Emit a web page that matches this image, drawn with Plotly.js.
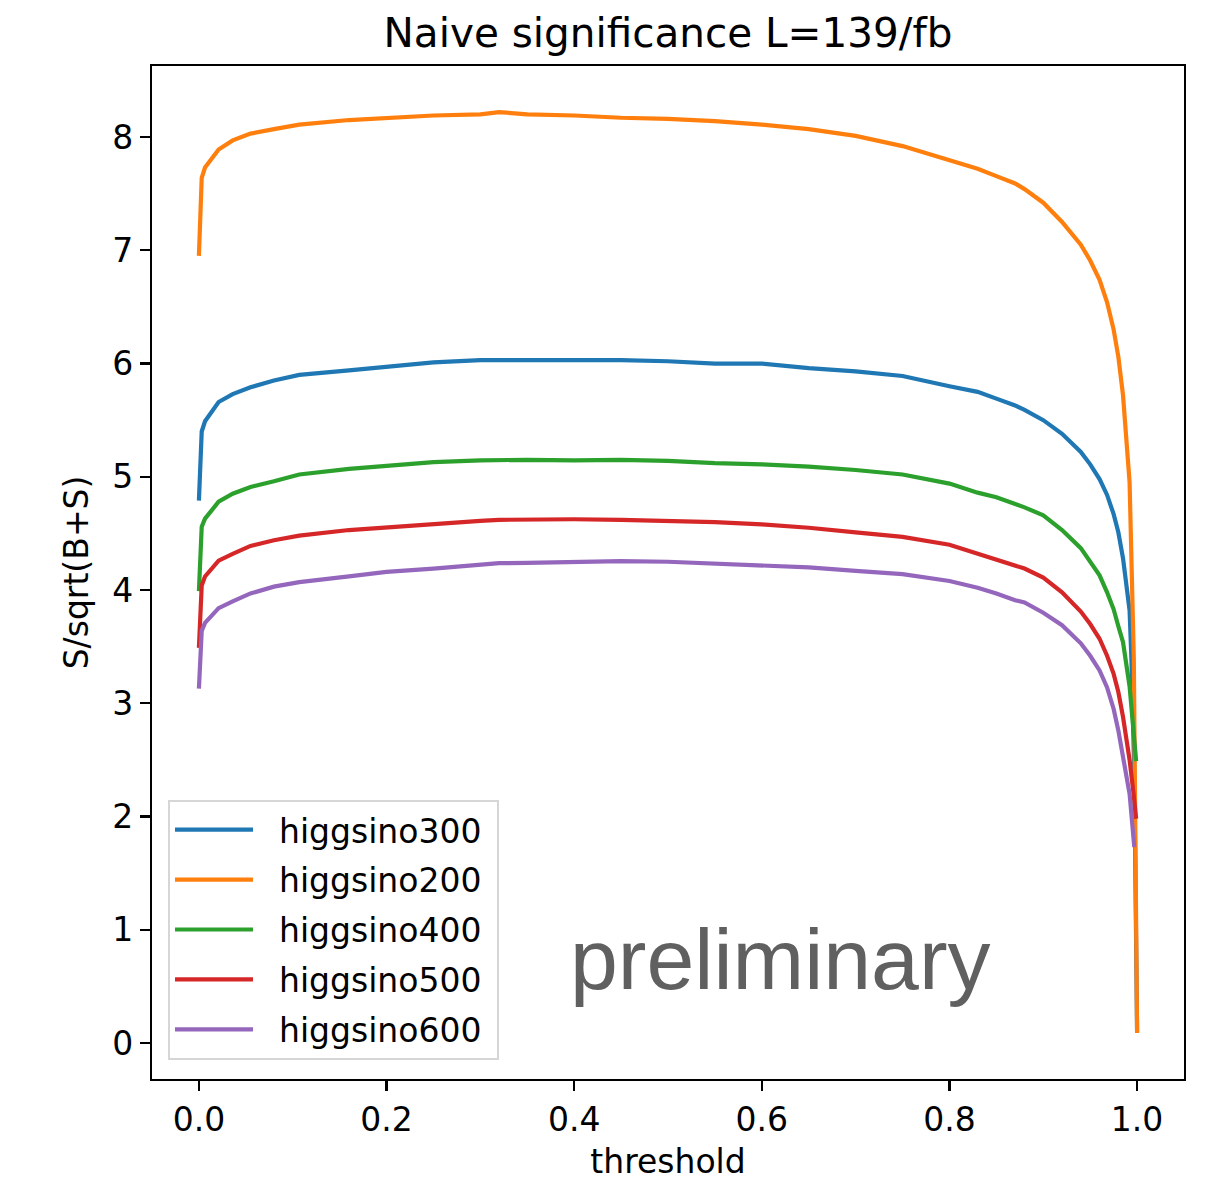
<!DOCTYPE html>
<html>
<head>
<meta charset="utf-8">
<script src="https://cdn.plot.ly/plotly-3.0.1.min.js"></script>
<style>html,body{margin:0;padding:0;background:#fff;}#chart{width:1219px;height:1185px;}</style>
</head>
<body>
<div id="chart"></div>
<script>
// shared threshold grid
const threshold = [0, 0.003, 0.0065, 0.021, 0.036, 0.055, 0.08, 0.107, 0.16, 0.2, 0.25, 0.3, 0.32, 0.35, 0.4, 0.45, 0.5, 0.55, 0.6, 0.65, 0.7, 0.75, 0.8, 0.83, 0.85, 0.87, 0.88, 0.9, 0.92, 0.94, 0.95, 0.96, 0.968, 0.975, 0.98, 0.985, 0.992];

const names = ["higgsino300", "higgsino200", "higgsino400", "higgsino500", "higgsino600"];
const colors = ["#1f77b4", "#ff7f0e", "#2ca02c", "#d62728", "#9467bd"];

const h300 = [4.79, 5.40, 5.49, 5.66, 5.73, 5.79, 5.85, 5.90, 5.94, 5.97, 6.01, 6.03, 6.03, 6.035, 6.03, 6.03, 6.02, 6.00, 6.00, 5.96, 5.93, 5.89, 5.80, 5.75, 5.69, 5.63, 5.59, 5.50, 5.38, 5.22, 5.11, 4.98, 4.84, 4.67, 4.51, 4.28, 3.82];
const h300TailX = [0.994, 0.997, 1.0];
const h300TailY = [3.38, 2.4, 0.1];

const h200 = [6.95, 7.64, 7.73, 7.89, 7.97, 8.03, 8.07, 8.11, 8.15, 8.17, 8.19, 8.20, 8.22, 8.20, 8.19, 8.17, 8.16, 8.14, 8.11, 8.07, 8.01, 7.92, 7.80, 7.72, 7.655, 7.59, 7.54, 7.42, 7.25, 7.05, 6.91, 6.74, 6.54, 6.30, 6.06, 5.72, 4.95];
const h200TailX = [0.9965, 1.0];
const h200TailY = [3.40, 0.09];

const h400 = [3.99, 4.56, 4.63, 4.78, 4.85, 4.91, 4.96, 5.02, 5.07, 5.10, 5.13, 5.145, 5.15, 5.15, 5.145, 5.15, 5.14, 5.12, 5.11, 5.09, 5.06, 5.02, 4.94, 4.86, 4.82, 4.76, 4.73, 4.66, 4.53, 4.37, 4.25, 4.13, 3.98, 3.83, 3.68, 3.54, 3.15];
const h400TailX = [0.996, 0.999];
const h400TailY = [2.80, 2.49];

const h500 = [3.49, 4.04, 4.12, 4.26, 4.32, 4.39, 4.44, 4.48, 4.53, 4.555, 4.58, 4.61, 4.62, 4.625, 4.625, 4.62, 4.61, 4.60, 4.58, 4.55, 4.51, 4.47, 4.40, 4.32, 4.27, 4.21, 4.19, 4.11, 3.98, 3.81, 3.70, 3.57, 3.42, 3.26, 3.10, 2.88, 2.50];
const h500TailX = [0.996, 0.999];
const h500TailY = [2.22, 1.98];

const h600 = [3.13, 3.64, 3.71, 3.84, 3.90, 3.97, 4.03, 4.07, 4.12, 4.16, 4.19, 4.22, 4.237, 4.24, 4.245, 4.255, 4.25, 4.235, 4.22, 4.20, 4.17, 4.14, 4.08, 4.02, 3.97, 3.91, 3.89, 3.80, 3.69, 3.53, 3.42, 3.29, 3.14, 2.95, 2.76, 2.54, 2.20];
const h600TailX = [0.997];
const h600TailY = [1.73];

const seriesY = [h300.concat(h300TailY), h200.concat(h200TailY), h400.concat(h400TailY), h500.concat(h500TailY), h600.concat(h600TailY)];
const seriesX = [threshold.concat(h300TailX), threshold.concat(h200TailX), threshold.concat(h400TailX), threshold.concat(h500TailX), threshold.concat(h600TailX)];

const font = "DejaVu Sans, sans-serif";

const traces = names.map((n, i) => ({
  x: seriesX[i], y: seriesY[i], name: "\u00a0\u00a0" + n + "\u00a0", type: "scatter", mode: "lines",
  legendgroup: "g" + i,
  line: {color: colors[i], width: 4.2}
}));

const layout = {
  width: 1219, height: 1185,
  margin: {l: 152, r: 35, t: 66, b: 106},
  paper_bgcolor: "#fff", plot_bgcolor: "#fff",
  font: {family: font, size: 33, color: "#000"},
  title: {text: "Naive significance L=139/fb", font: {family: font, size: 40.5, color: "#000"},
          x: 0.548, xanchor: "center", y: 1 - 33/1185, yanchor: "middle", yref: "container"},
  xaxis: {range: [-0.05, 1.05], dtick: 0.2, tick0: 0, tickformat: ".1f",
          showline: true, mirror: true, linecolor: "#000", linewidth: 2.2,
          ticks: "outside", ticklen: 10, tickwidth: 2.2, tickcolor: "#000",
          showgrid: false, zeroline: false,
          tickfont: {family: font, size: 33},
          title: {text: "threshold", font: {family: font, size: 33}, standoff: 12}},
  yaxis: {range: [-0.317, 8.627], dtick: 1, tick0: 0,
          showline: true, mirror: true, linecolor: "#000", linewidth: 2.2,
          ticks: "outside", ticklen: 10, tickwidth: 2.2, tickcolor: "#000",
          showgrid: false, zeroline: false,
          tickfont: {family: font, size: 33},
          title: {text: "S/sqrt(B+S)", font: {family: font, size: 33}, standoff: 14}},
  legend: {x: 0.0155, y: 0.019, xanchor: "left", yanchor: "bottom",
           bgcolor: "rgba(255,255,255,0.8)", bordercolor: "#d6d6d6", borderwidth: 2,
           itemwidth: 78, tracegroupgap: 4,
           font: {family: font, size: 33, color: "#000"}},
  showlegend: true,
  annotations: [{
    x: 0.62, y: 0.74, xref: "x", yref: "y", text: "preliminary", showarrow: false,
    xanchor: "center", yanchor: "middle",
    font: {family: "Liberation Sans, Arial, sans-serif", size: 86, color: "#606060"}
  }]
};

Plotly.newPlot("chart", traces, layout, {staticPlot: true, displayModeBar: false});
</script>
</body>
</html>
